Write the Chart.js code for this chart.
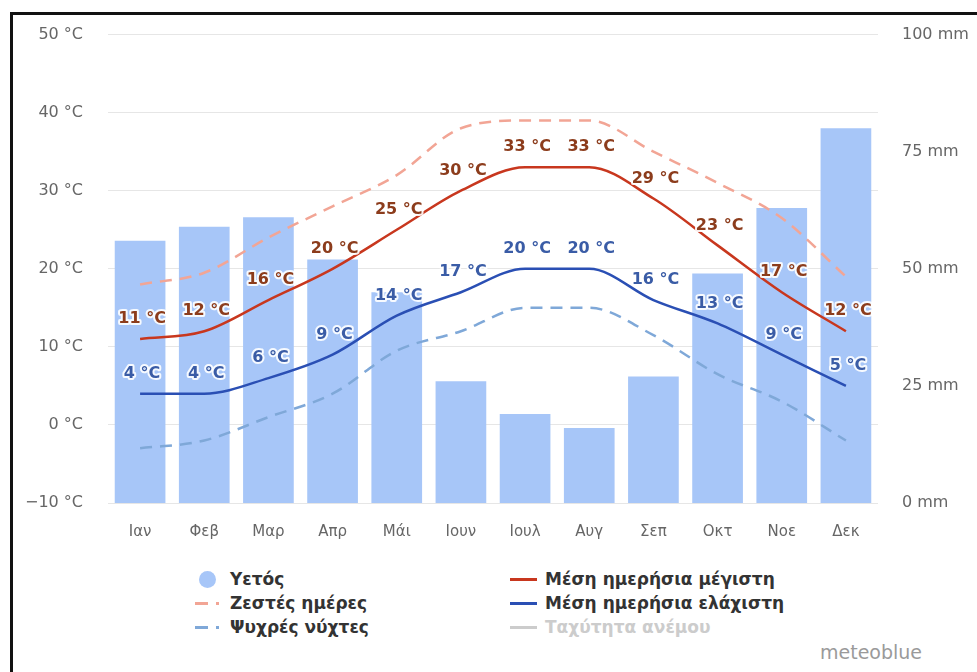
<!DOCTYPE html>
<html>
<head>
<meta charset="utf-8">
<script src="https://cdn.jsdelivr.net/npm/chart.js@4"></script>
<style>
  html, body { margin: 0; padding: 0; background: #fff; overflow: hidden; }
  body { width: 977px; height: 672px; position: relative; font-family: "DejaVu Sans", sans-serif; }
  #wrap { position: absolute; left: 0; top: 0; width: 977px; height: 550px; }
  #frame { position: absolute; left: 10px; top: 12px; width: 1200px; height: 800px;
           border-left: 3px solid #111; border-top: 3px solid #111; pointer-events: none; }
  .leg { position: absolute; font-weight: bold; font-size: 17px; color: #333; white-space: nowrap; line-height: 24px; }
  .leg .row { height: 24px; position: relative; }
  .leg .mk { position: absolute; top: 11px; height: 3px; }
  .leg .dot { position: absolute; top: 11px; width: 3px; height: 3px; }
  .leg .circ { position: absolute; top: 4px; width: 17px; height: 17px; border-radius: 9px; }
  #credit { position: absolute; left: 820px; top: 641px; font-size: 19px; color: #9a9a9a; }
</style>
</head>
<body>
<div id="wrap"><canvas id="climate"></canvas></div>
<div id="legLeft" class="leg" style="left:199px; top:567px;"></div>
<div id="legRight" class="leg" style="left:510px; top:567px;"></div>
<div id="credit">meteoblue</div>
<div id="frame"></div>
<script>
const MONTHS = ['Ιαν', 'Φεβ', 'Μαρ', 'Απρ', 'Μάι', 'Ιουν', 'Ιουλ', 'Αυγ', 'Σεπ', 'Οκτ', 'Νοε', 'Δεκ'];
const PRECIP_MM = [56, 59, 61, 52, 45, 26, 19, 16, 27, 49, 63, 80];
const MEAN_MAX = [11, 12, 16, 20, 25, 30, 33, 33, 29, 23, 17, 12];
const MEAN_MIN = [4, 4, 6, 9, 14, 17, 20, 20, 16, 13, 9, 5];
const HOT_DAYS = [18, 19.5, 24, 28, 32, 38, 39, 39, 35, 31, 26.5, 19];
const COLD_NIGHTS = [-3, -2, 1, 4, 9.5, 12, 15, 15, 11.5, 6.5, 3, -2];
const TEMP_TICKS = { min: -10, max: 50, step: 10 };
const RAIN_TICKS = { min: 0, max: 100, step: 25 };

const C_BAR = '#a7c6f8';
const C_MAX = '#c8371e', C_MAX_TXT = '#8c3c1c';
const C_MIN = '#2a4fb4', C_MIN_TXT = '#3a5ca6';
const C_HOT = '#f2a595', C_COLD = '#7fa8d8';

function fmtTemp(v) { return (v < 0 ? '\u2212' + Math.abs(v) : v) + ' °C'; }

// value labels above the two solid lines, white halo like the original
const pointLabels = {
  id: 'pointLabels',
  afterDatasetsDraw(chart) {
    const ctx = chart.ctx;
    ctx.save();
    ctx.font = 'bold 16px "DejaVu Sans"';
    ctx.textAlign = 'center';
    ctx.textBaseline = 'middle';
    ctx.lineJoin = 'round';
    chart.data.datasets.forEach(function (ds, di) {
      if (!ds.labelColor) return;
      chart.getDatasetMeta(di).data.forEach(function (pt, i) {
        const txt = ds.data[i] + ' °C';
        ctx.lineWidth = 4;
        ctx.strokeStyle = 'rgba(255,255,255,0.9)';
        ctx.strokeText(txt, pt.x + 2, pt.y - 20);
        ctx.fillStyle = ds.labelColor;
        ctx.fillText(txt, pt.x + 2, pt.y - 20);
      });
    });
    ctx.restore();
  }
};

const lineBase = { type: 'line', yAxisID: 'yT', pointRadius: 0, borderWidth: 2.5, fill: false,
                   cubicInterpolationMode: 'monotone', order: 1 };

const chart = new Chart(document.getElementById('climate'), {
  data: {
    labels: MONTHS,
    datasets: [
      Object.assign({}, lineBase, { label: 'Μέση ημερήσια μέγιστη', data: MEAN_MAX, borderColor: C_MAX, labelColor: C_MAX_TXT }),
      Object.assign({}, lineBase, { label: 'Μέση ημερήσια ελάχιστη', data: MEAN_MIN, borderColor: C_MIN, labelColor: C_MIN_TXT }),
      Object.assign({}, lineBase, { label: 'Ζεστές ημέρες', data: HOT_DAYS, borderColor: C_HOT, borderDash: [12, 8], order: 2 }),
      Object.assign({}, lineBase, { label: 'Ψυχρές νύχτες', data: COLD_NIGHTS, borderColor: C_COLD, borderDash: [12, 8], order: 2 }),
      { type: 'bar', label: 'Υετός', data: PRECIP_MM, yAxisID: 'yR', backgroundColor: C_BAR,
        categoryPercentage: 1, barPercentage: 0.79, order: 10 }
    ]
  },
  options: {
    responsive: true, maintainAspectRatio: false, animation: false,
    layout: { padding: { top: 30, left: 0, right: 0, bottom: 0 } },
    plugins: { legend: { display: false }, tooltip: { enabled: false } },
    scales: {
      x: {
        offset: true,
        grid: { display: false }, border: { display: false },
        ticks: { color: '#666', font: { family: 'DejaVu Sans', size: 15 }, padding: 12 },
        afterFit: function (s) { s.height = 47; }
      },
      yT: {
        position: 'left', min: TEMP_TICKS.min, max: TEMP_TICKS.max,
        grid: { color: '#e6e6e6', drawTicks: false }, border: { display: false },
        ticks: { stepSize: TEMP_TICKS.step, color: '#666', font: { family: 'DejaVu Sans', size: 16 }, padding: 25,
                 callback: function (v) { return fmtTemp(v); } },
        afterFit: function (s) { s.width = 108; }
      },
      yR: {
        position: 'right', min: RAIN_TICKS.min, max: RAIN_TICKS.max,
        grid: { display: false, drawTicks: false }, border: { display: false },
        ticks: { stepSize: RAIN_TICKS.step, color: '#666', font: { family: 'DejaVu Sans', size: 16 }, padding: 24,
                 callback: function (v) { return v + ' mm'; } },
        afterFit: function (s) { s.width = 99; }
      }
    }
  },
  plugins: [pointLabels]
});

// two-column legend under the chart
function legRow(parent, kind, color, text, textColor) {
  const row = document.createElement('div');
  row.className = 'row';
  let mk = '';
  if (kind === 'circle') mk = '<span class="circ" style="left:0;background:' + color + '"></span>';
  else if (kind === 'dash') mk = '<span class="mk" style="left:-4px;width:13px;background:' + color + '"></span>' +
                                 '<span class="dot" style="left:17px;background:' + color + '"></span>';
  else mk = '<span class="mk" style="left:0;width:27px;background:' + color + '"></span>';
  row.innerHTML = mk + '<span style="position:absolute;left:' + (kind === 'line' ? 35 : 31) + 'px;color:' + (textColor || '#333') + '">' + text + '</span>';
  parent.appendChild(row);
}
const L = document.getElementById('legLeft'), R = document.getElementById('legRight');
legRow(L, 'circle', C_BAR, 'Υετός');
legRow(L, 'dash', C_HOT, 'Ζεστές ημέρες');
legRow(L, 'dash', C_COLD, 'Ψυχρές νύχτες');
legRow(R, 'line', C_MAX, 'Μέση ημερήσια μέγιστη');
legRow(R, 'line', C_MIN, 'Μέση ημερήσια ελάχιστη');
legRow(R, 'line', '#cccccc', 'Ταχύτητα ανέμου', '#cccccc');
</script>
</body>
</html>
